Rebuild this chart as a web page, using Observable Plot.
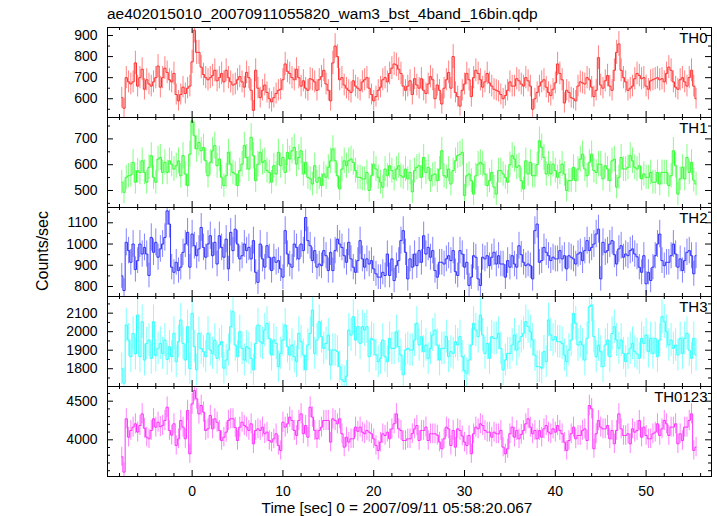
<!DOCTYPE html>
<html><head><meta charset="utf-8">
<script src="https://cdn.jsdelivr.net/npm/d3@7"></script>
<script src="https://cdn.jsdelivr.net/npm/@observablehq/plot@0.6"></script>
<style>
html,body{margin:0;padding:0;background:#fff;}
#fig{position:relative;width:717px;height:516px;overflow:hidden;background:#fff;font-family:"Liberation Sans",Arial,Helvetica,sans-serif;}
#fig > svg{position:absolute;left:0;}
</style></head><body><div id="fig"></div>
<script>
const titleText = "ae402015010_20070911055820_wam3_bst_4band_16bin.qdp";
const xLabel = "Time [sec] 0 = 2007/09/11 05:58:20.067";
const yLabel = "Counts/sec";
const T0 = -7.75, DT = 0.25;   // bin centres (s) and bin width (s)
const xDomain = [-9.32, 57.2];
const xMajor = [0, 10, 20, 30, 40, 50];
const xMinor = d3.range(-8, 57, 2);

const th0 = [605,555,700,680,670,680,770,660,700,740,
645,690,670,660,680,700,755,655,700,745,
725,690,680,720,620,590,620,655,625,650,
660,775,925,820,820,750,715,700,690,700,
710,735,685,700,720,680,735,700,680,665,
670,690,705,680,655,725,700,640,545,735,
650,605,640,665,630,600,585,605,625,640,
645,690,765,730,720,700,690,740,700,660,
685,650,640,695,690,680,640,690,705,735,
670,640,590,770,850,800,690,700,665,650,
640,630,685,660,650,640,680,690,700,650,
620,590,610,640,655,690,700,680,720,745,
765,760,740,720,660,640,660,685,
620,695,665,650,695,640,625,670,705,690,
600,665,640,575,650,690,725,650,800,630,
610,565,640,670,720,690,610,700,735,720,
690,655,680,720,675,660,645,640,635,620,
600,615,640,680,660,660,695,685,670,660,
700,685,660,550,600,630,660,680,690,655,
630,615,645,675,765,720,690,580,640,630,
605,600,590,660,680,675,670,700,690,655,
610,640,795,665,650,685,710,660,640,735,
820,860,735,700,680,640,650,660,695,720,
710,695,700,660,645,685,690,695,700,690,
695,680,720,750,735,680,655,645,690,700,
680,660,700,735,660,600];

const th1 = [532,493,551,557,560,609,532,577,570,615,
570,532,590,635,551,532,622,628,570,609,
570,615,602,583,596,615,557,635,564,519,
641,770,712,661,686,654,667,615,557,609,
654,674,596,622,551,519,557,648,602,570,
564,519,577,602,674,628,583,706,635,538,
602,648,609,615,577,570,532,596,564,648,
596,628,570,648,622,654,667,602,628,654,
564,609,551,545,525,596,532,551,519,564,
551,590,615,661,615,557,506,583,615,596,
615,622,609,577,551,551,545,545,570,500,
557,602,583,551,532,513,583,557,596,577,
545,583,596,557,551,583,545,570,
495,577,590,596,551,628,570,590,538,560,
564,538,583,654,557,551,583,525,577,615,
635,640,648,480,557,564,538,486,557,602,
609,602,564,519,538,570,513,486,577,577,
564,551,532,600,635,622,590,596,538,506,
615,564,609,557,557,600,693,667,628,564,
602,564,602,577,551,570,602,564,500,538,
538,590,538,583,622,641,583,557,609,641,
577,570,602,602,545,596,583,538,615,622,
513,551,628,583,583,590,635,615,590,583,
596,545,564,551,551,570,532,532,570,525,
570,570,570,519,557,654,596,486,545,590,
545,628,570,609,540,525];

const th2 = [850,781,1008,969,914,1000,880,922,1000,953,
984,953,852,1031,961,1008,938,977,1000,1031,
1156,1094,891,867,914,875,891,961,1000,1055,
891,1047,992,945,977,1078,984,938,1000,1039,
945,1008,906,1039,984,938,1023,883,1055,969,
1070,1000,930,945,1000,969,984,930,1016,867,
820,1000,930,891,992,938,875,938,914,922,
883,844,1063,953,906,891,1000,984,930,1000,
969,1125,1016,992,922,969,891,906,898,969,
945,875,961,875,969,1023,1000,984,945,914,
1008,930,891,867,922,1016,930,891,930,906,
922,883,860,844,844,867,852,953,852,930,
828,898,922,1016,1063,961,836,930,
891,953,898,969,914,1039,953,984,938,969,
875,844,914,914,906,930,945,922,969,870,
852,969,953,891,914,805,844,945,938,836,
805,938,930,945,898,938,961,906,945,906,
906,844,922,891,945,906,891,992,950,914,
898,906,898,836,1063,1094,914,922,984,961,
945,922,938,930,930,969,930,945,883,945,
938,930,906,953,961,922,969,1016,969,984,
1000,1047,1070,836,1008,961,969,1000,1016,950,
906,977,992,938,953,945,969,977,953,940,
891,867,945,813,867,828,891,945,1000,1047,
922,898,914,914,945,1000,953,891,930,875,
922,961,969,945,860,945];

const th3 = [1800,1722,2036,1955,1865,1990,1880,2090,1865,2054,
1847,1937,1955,1856,2054,1870,1910,1937,1883,1955,
1850,1919,1865,1991,1838,1946,2063,1937,1847,2027,
1800,2099,1919,1794,1991,1910,1892,1865,1991,1901,
1883,1955,1856,1928,1946,1803,1847,1901,2027,2108,
1928,1865,2000,1910,1847,1919,1910,1856,1794,1937,
2036,1946,1937,2009,2045,1964,1874,1955,1937,1811,
1883,1955,2036,1919,1874,1928,1865,1838,1991,1946,
1874,1794,1928,1990,2117,1883,1955,2054,1973,1910,
1937,1982,1820,1901,1901,1892,1811,1740,1731,1760,
2009,1982,2081,1955,2027,1937,2027,2009,2027,1865,
1964,1955,1874,1838,1856,1955,1865,1838,1964,1910,
1910,2000,1919,1874,1767,1901,1910,1901,
1901,1955,2045,1928,1973,1892,1928,1856,1910,1982,
2009,1928,1847,1910,1910,1973,1865,1892,1883,1946,
1928,1973,1865,1790,1776,1847,1928,2045,2009,1973,
2090,1982,1883,1937,1856,1973,1964,1964,1991,1910,
1794,1847,1883,1883,1928,1982,1901,1946,1973,1991,
2054,2027,2000,1955,1874,1811,1811,1803,1892,1838,
2063,1982,1955,1973,1946,1946,1937,1874,1838,1901,
1955,2099,2045,1928,1946,1928,1847,1964,2135,2144,
1973,1865,1928,1892,1811,1928,1955,1865,1990,2027,
1955,1910,1955,1883,1838,1883,1910,1937,1892,1880,
1856,1964,1937,1982,1892,1964,1883,1964,1865,1955,
2081,2054,2000,1928,1955,1910,1928,1874,1964,1883,
1964,1991,1900,1856,1964,1874];

const th0123 = [3780,3582,4272,4034,4121,4164,4207,4100,4185,4336,
4150,4034,4013,4121,4272,4164,4228,4170,4185,4250,
4422,4121,4060,4207,3927,4013,4250,4164,4013,4379,
3819,4465,4638,4530,4336,4444,4358,4121,4142,4315,
4142,4272,4228,4121,3990,4034,4099,4250,4272,4272,
4160,3991,4164,4228,4185,4164,4121,4207,3948,4121,
4142,4121,4164,4078,4099,3991,3970,4013,4078,3927,
3862,4228,4164,4207,4293,4250,4121,4056,4250,4336,
4078,4185,4034,4422,4293,4121,4013,4121,4164,4250,
4250,4250,3970,4272,4250,4207,4272,4078,3905,4034,
3970,4013,4013,4164,4110,4164,4099,4078,4121,4099,
4078,4013,3927,3862,3970,4078,4056,4099,4013,4142,
4207,4336,4142,4121,3991,3991,4013,4013,
4080,4142,4185,3991,4121,4121,4164,3991,4078,4078,
4078,4060,3970,3884,4013,4164,4142,3927,4121,3905,
4142,4121,4050,3970,3927,4056,3819,4078,4164,4142,
4207,4185,4121,4099,4099,4034,4099,4078,4078,4121,
3905,3819,3884,4078,4164,4034,4121,4013,4070,4121,
4207,4272,4164,4078,4121,4013,4121,4034,4142,4185,
4100,4078,4142,4099,4185,4121,4078,3970,3862,3991,
4078,4164,4013,4056,4056,4121,4142,3991,4444,4401,
3884,4078,4250,4164,4142,4142,4185,4013,4121,3948,
4121,4336,4142,4056,4056,4078,3948,4142,4099,4121,
4250,4034,4164,4056,4013,4013,4078,4099,4207,4056,
4142,4250,4207,4056,4164,4164,4207,3948,4078,3991,
4164,4164,4250,4336,3862,3905];

const names = ["TH0", "TH1", "TH2", "TH3", "TH0123"];
const colors = ["#ff3030", "#30ff30", "#3030ff", "#30ffff", "#ff30ff"];
const yDomains = [[511, 938], [434, 783], [753, 1172], [1704, 2190], [3525, 4690]];
const yMajors = [[600, 700, 800, 900], [500, 600, 700], [800, 900, 1000, 1100], [1800, 1900, 2000, 2100], [4000, 4500]];
const yMinorSteps = [50, 50, 50, 50, 100];
const series = [th0, th1, th2, th3, th0123];

const panelTops = [27, 117, 207, 296, 386, 476];
const frameLeft = 107, frameRight = 711, W = 717;
const FONT = '"Liberation Sans", Arial, Helvetica, sans-serif';

const fig = document.getElementById("fig");

series.forEach((vals, k) => {
  const top = panelTops[k], bottom = panelTops[k + 1];
  const h = bottom - top, fw = frameRight - frameLeft;
  const pad = 4;
  const last = k === series.length - 1;
  const mb = last ? 40 : pad;
  const data = vals.map((v, i) => ({t: T0 + DT * i, v, lo: v - Math.sqrt(v / DT), hi: v + Math.sqrt(v / DT)}));
  const [d0, d1] = yDomains[k];
  const st = yMinorSteps[k];
  const yMinor = d3.range(Math.ceil(d0 / st) * st, d1, st).filter(v => !yMajors[k].includes(v));
  const xMin = xMinor.filter(v => !xMajor.includes(v));
  const tk = {stroke: "black", strokeWidth: 1};
  const marks = [
    Plot.ruleX(data, {x: "t", y1: "lo", y2: "hi", stroke: colors[k], strokeOpacity: 0.6, strokeWidth: 1, clip: true}),
    Plot.line(data, {x: "t", y: "v", curve: "step", stroke: colors[k], strokeWidth: 1, clip: true}),
    // inward ticks on all four sides
    Plot.ruleX(xMin, {x: d => d, insetTop: h - 3, ...tk}),
    Plot.ruleX(xMajor, {x: d => d, insetTop: h - 6, ...tk}),
    Plot.ruleX(xMin, {x: d => d, insetBottom: h - 3, ...tk}),
    Plot.ruleX(xMajor, {x: d => d, insetBottom: h - 6, ...tk}),
    Plot.ruleY(yMinor, {y: d => d, insetRight: fw - 3, ...tk}),
    Plot.ruleY(yMajors[k], {y: d => d, insetRight: fw - 6, ...tk}),
    Plot.ruleY(yMinor, {y: d => d, insetLeft: fw - 3, ...tk}),
    Plot.ruleY(yMajors[k], {y: d => d, insetLeft: fw - 6, ...tk}),
    Plot.frame({stroke: "black", strokeWidth: 1}),
    Plot.axisY({anchor: "left", ticks: yMajors[k], tickSize: 0, tickPadding: 10, tickFormat: "d", fontSize: 14, label: null}),
    Plot.text([names[k]], {text: d => d, frameAnchor: "top-right", dx: -4, dy: 5, fontSize: 15, fill: "black", textAnchor: "end", lineAnchor: "top"})
  ];
  if (last) marks.push(Plot.axisX({anchor: "bottom", ticks: xMajor, tickSize: 0, tickPadding: 10, tickFormat: "d", fontSize: 14, label: null}));
  else marks.push(Plot.axisX({anchor: "bottom", ticks: [], tickSize: 0, label: null}));
  const svg = Plot.plot({
    width: W,
    height: h + pad + mb,
    marginLeft: frameLeft, marginRight: W - frameRight,
    marginTop: pad, marginBottom: mb,
    x: {domain: xDomain},
    y: {domain: yDomains[k]},
    style: {background: "transparent", overflow: "visible", fontFamily: FONT, fontSize: "14px", color: "black"},
    marks
  });
  svg.style.top = (top - pad) + "px";
  fig.appendChild(svg);
});

// overlay texts: title and axis titles
const ov = d3.create("svg").attr("width", W).attr("height", 516)
  .style("top", "0px").style("font-family", FONT);
ov.append("text").attr("x", frameLeft).attr("y", 19).attr("font-size", 15.5).attr("fill", "black").text(titleText);
ov.append("text").attr("x", 397).attr("y", 513).attr("font-size", 15.4).attr("fill", "black").attr("text-anchor", "middle").text(xLabel);
ov.append("text").attr("transform", "translate(48,251) rotate(-90)").attr("font-size", 16).attr("fill", "black").attr("text-anchor", "middle").text(yLabel);
fig.appendChild(ov.node());
</script></body></html>
